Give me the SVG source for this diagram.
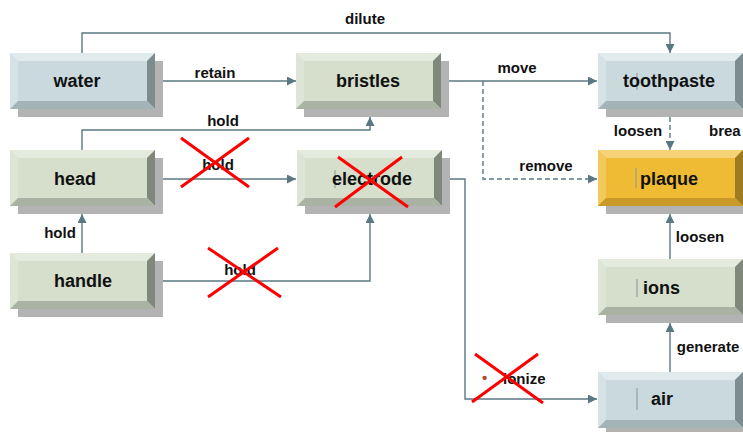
<svg xmlns="http://www.w3.org/2000/svg" width="743" height="432" viewBox="0 0 743 432">
<defs>
<marker id="arr" viewBox="0 0 10 10" refX="10" refY="5" markerWidth="9" markerHeight="9" markerUnits="userSpaceOnUse" orient="auto">
<path d="M0,0 L10,5 L0,10 z" fill="#5b7882"/>
</marker>
<style>
.sh{fill:#b2b3b2}
.bl .fc{fill:#c9d9de}.bl .tp{fill:#e1eaec}.bl .lf{fill:#d6e2e5}.bl .rt{fill:#7c8c8f}.bl .bt{fill:#a3b3b6}
.gr .fc{fill:#d5dfcc}.gr .tp{fill:#e4ebde}.gr .lf{fill:#dde5d6}.gr .rt{fill:#7f887a}.gr .bt{fill:#aab3a3}
.yl .fc{fill:#efbb35}.yl .tp{fill:#f5d376}.yl .lf{fill:#f2c95a}.yl .rt{fill:#9e7a22}.yl .bt{fill:#c99a2a}
.nt{font-family:"Liberation Sans",Arial,sans-serif;font-weight:bold;font-size:18px;fill:#111}
.et{font-family:"Liberation Sans",Arial,sans-serif;font-weight:bold;font-size:15px;fill:#111}
.bul{fill:#a0522d}
.ln{fill:none;stroke:#5b7882;stroke-width:1.4}
.ds{stroke-dasharray:5,3}
.x{stroke:#ff0000;stroke-width:3;fill:none}
.cur{stroke:#8a9595;stroke-width:1}
</style>
</defs>

<g id="connectors">
<path class="ln" d="M82,53 V33 H670 V53" marker-end="url(#arr)"/>
<path class="ln" d="M163,81 H296" marker-end="url(#arr)"/>
<path class="ln" d="M82,150 V130 H370 V117" marker-end="url(#arr)"/>
<path class="ln" d="M163,179 H296" marker-end="url(#arr)"/>
<path class="ln" d="M82,253 V214" marker-end="url(#arr)"/>
<path class="ln" d="M163,281 H370 V214" marker-end="url(#arr)"/>
<path class="ln" d="M448,81 H597" marker-end="url(#arr)"/>
<path class="ln ds" d="M483,81 V179 H597" marker-end="url(#arr)"/>
<path class="ln ds" d="M670,117 V150" marker-end="url(#arr)"/>
<path class="ln" d="M450,179 H465 V399 H597" marker-end="url(#arr)"/>
<path class="ln" d="M670,372 V323" marker-end="url(#arr)"/>
<path class="ln" d="M670,259 V214" marker-end="url(#arr)"/>
<text class="et" x="365" y="24" text-anchor="middle">dilute</text>
<text class="et" x="215" y="78" text-anchor="middle">retain</text>
<text class="et" x="223" y="126" text-anchor="middle">hold</text>
<text class="et" x="517" y="73" text-anchor="middle">move</text>
<text class="et" x="638" y="136" text-anchor="middle">loosen</text>
<text class="et" x="709" y="136">brea</text>
<text class="et" x="218" y="170" text-anchor="middle">hold</text>
<text class="et" x="546" y="171" text-anchor="middle">remove</text>
<text class="et" x="60" y="238" text-anchor="middle">hold</text>
<text class="et" x="700" y="242" text-anchor="middle">loosen</text>
<text class="et" x="240" y="275" text-anchor="middle">hold</text>
<text class="et" x="708" y="352" text-anchor="middle">generate</text>
<text class="et bul" x="482" y="383">•</text>
<text class="et" x="503" y="384">ionize</text>
</g>

<g id="water" class="bl" transform="translate(10,53)">
<rect class="sh" x="8" y="8" width="145" height="56"/>
<rect class="fc" width="145" height="56"/>
<polygon class="tp" points="0,0 145,0 137,8 8,8"/>
<polygon class="lf" points="0,0 8,8 8,48 0,56"/>
<polygon class="rt" points="145,0 145,56 137,48 137,8"/>
<polygon class="bt" points="0,56 145,56 137,48 8,48"/>
<text class="nt" x="67" y="34" text-anchor="middle">water</text>
</g>

<g id="bristles" class="gr" transform="translate(296,53)">
<rect class="sh" x="8" y="8" width="145" height="56"/>
<rect class="fc" width="145" height="56"/>
<polygon class="tp" points="0,0 145,0 137,8 8,8"/>
<polygon class="lf" points="0,0 8,8 8,48 0,56"/>
<polygon class="rt" points="145,0 145,56 137,48 137,8"/>
<polygon class="bt" points="0,56 145,56 137,48 8,48"/>
<text class="nt" x="72" y="34" text-anchor="middle">bristles</text>
</g>

<g id="toothpaste" class="bl" transform="translate(598,53)">
<rect class="sh" x="8" y="8" width="145" height="56"/>
<rect class="fc" width="145" height="56"/>
<polygon class="tp" points="0,0 145,0 137,8 8,8"/>
<polygon class="lf" points="0,0 8,8 8,48 0,56"/>
<polygon class="rt" points="145,0 145,56 137,48 137,8"/>
<polygon class="bt" points="0,56 145,56 137,48 8,48"/>
<line class="cur" x1="39" y1="20" x2="39" y2="37"/>
<text class="nt" x="71" y="34" text-anchor="middle">toothpaste</text>
</g>

<g id="head" class="gr" transform="translate(10,150)">
<rect class="sh" x="8" y="8" width="145" height="56"/>
<rect class="fc" width="145" height="56"/>
<polygon class="tp" points="0,0 145,0 137,8 8,8"/>
<polygon class="lf" points="0,0 8,8 8,48 0,56"/>
<polygon class="rt" points="145,0 145,56 137,48 137,8"/>
<polygon class="bt" points="0,56 145,56 137,48 8,48"/>
<text class="nt" x="65" y="35" text-anchor="middle">head</text>
</g>

<g id="electrode" class="gr" transform="translate(297,150)">
<rect class="sh" x="8" y="8" width="145" height="56"/>
<rect class="fc" width="145" height="56"/>
<polygon class="tp" points="0,0 145,0 137,8 8,8"/>
<polygon class="lf" points="0,0 8,8 8,48 0,56"/>
<polygon class="rt" points="145,0 145,56 137,48 137,8"/>
<polygon class="bt" points="0,56 145,56 137,48 8,48"/>
<line class="cur" x1="38" y1="20" x2="38" y2="38"/>
<text class="nt" x="75" y="35" text-anchor="middle">electrode</text>
</g>

<g id="plaque" class="yl" transform="translate(598,150)">
<rect class="sh" x="8" y="8" width="145" height="56"/>
<rect class="fc" width="145" height="56"/>
<polygon class="tp" points="0,0 145,0 137,8 8,8"/>
<polygon class="lf" points="0,0 8,8 8,48 0,56"/>
<polygon class="rt" points="145,0 145,56 137,48 137,8"/>
<polygon class="bt" points="0,56 145,56 137,48 8,48"/>
<line class="cur" x1="38" y1="18" x2="38" y2="38" stroke="#8a6a1a"/>
<text class="nt" x="42" y="35">plaque</text>
</g>

<g id="handle" class="gr" transform="translate(10,253)">
<rect class="sh" x="8" y="8" width="145" height="56"/>
<rect class="fc" width="145" height="56"/>
<polygon class="tp" points="0,0 145,0 137,8 8,8"/>
<polygon class="lf" points="0,0 8,8 8,48 0,56"/>
<polygon class="rt" points="145,0 145,56 137,48 137,8"/>
<polygon class="bt" points="0,56 145,56 137,48 8,48"/>
<text class="nt" x="73" y="34" text-anchor="middle">handle</text>
</g>

<g id="ions" class="gr" transform="translate(598,259)">
<rect class="sh" x="8" y="8" width="145" height="56"/>
<rect class="fc" width="145" height="56"/>
<polygon class="tp" points="0,0 145,0 137,8 8,8"/>
<polygon class="lf" points="0,0 8,8 8,48 0,56"/>
<polygon class="rt" points="145,0 145,56 137,48 137,8"/>
<polygon class="bt" points="0,56 145,56 137,48 8,48"/>
<line class="cur" x1="39" y1="20" x2="39" y2="38"/>
<text class="nt" x="45" y="35">ions</text>
</g>

<g id="air" class="bl" transform="translate(598,372)">
<rect class="sh" x="8" y="8" width="145" height="56"/>
<rect class="fc" width="145" height="56"/>
<polygon class="tp" points="0,0 145,0 137,8 8,8"/>
<polygon class="lf" points="0,0 8,8 8,48 0,56"/>
<polygon class="rt" points="145,0 145,56 137,48 137,8"/>
<polygon class="bt" points="0,56 145,56 137,48 8,48"/>
<line class="cur" x1="39" y1="16" x2="39" y2="38"/>
<text class="nt" x="53" y="33">air</text>
</g>

<g id="crosses">
<path class="x" d="M181,138 L249,187 M249,138 L181,187"/>
<path class="x" d="M338,157 L408,207 M402,157 L335,207"/>
<path class="x" d="M208,248 L281,297 M278,248 L208,297"/>
<path class="x" d="M475,354 L543,403 M538,354 L472,402"/>
</g>
</svg>
